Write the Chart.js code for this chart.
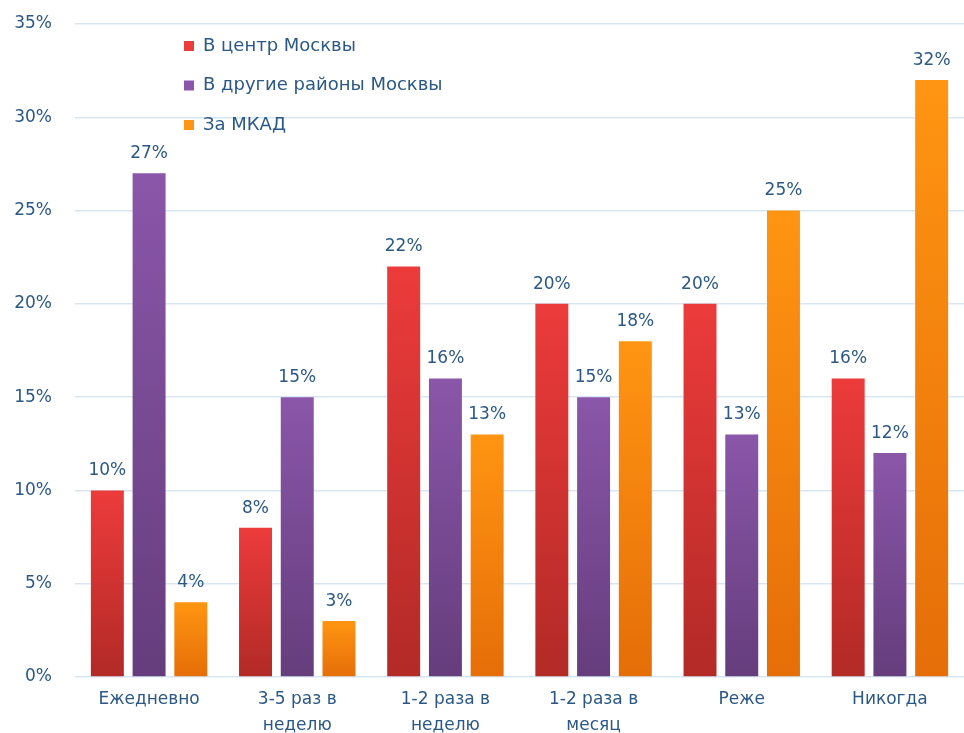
<!DOCTYPE html>
<html lang="ru">
<head>
  <meta charset="UTF-8">
  <title>Частота поездок</title>
  <script src="https://cdn.jsdelivr.net/npm/chart.js"></script>
  <style>
    html, body { margin: 0; padding: 0; background: #fff; }
    .wrap { width: 964px; height: 733px; position: relative; }
  </style>
</head>
<body>
<div class="wrap"><canvas id="chart"></canvas></div>

<script>
const categories = [
  'Ежедневно',
  ['3-5 раз в', 'неделю'],
  ['1-2 раза в', 'неделю'],
  ['1-2 раза в', 'месяц'],
  'Реже',
  'Никогда'
];
const seriesNames = ['В центр Москвы', 'В другие районы Москвы', 'За МКАД'];
const centerValues = [10, 8, 22, 20, 20, 16];
const districtValues = [27, 15, 16, 15, 13, 12];
const outsideValues = [4, 3, 13, 18, 25, 32];

const textBlue = '#2b5886';
const fontFamily = "'DejaVu Sans', Verdana, sans-serif";

// top / bottom colours for each series gradient
const palette = [
  ['#ec3b3b', '#b22a26'],
  ['#8a56a9', '#653d7c'],
  ['#ff9512', '#e56e08']
];

function barGradient(ctx) {
  const chart = ctx.chart;
  const pair = palette[ctx.datasetIndex];
  if (!chart.chartArea || ctx.type !== 'data') return pair[0];
  const y = chart.scales.y;
  const top = y.getPixelForValue(ctx.raw);
  const bottom = y.getPixelForValue(0);
  const g = chart.ctx.createLinearGradient(0, top, 0, bottom);
  g.addColorStop(0, pair[0]);
  g.addColorStop(1, pair[1]);
  return g;
}

const valueLabels = {
  id: 'valueLabels',
  afterDatasetsDraw(chart) {
    const ctx = chart.ctx;
    ctx.save();
    ctx.font = '17px ' + fontFamily;
    ctx.fillStyle = textBlue;
    ctx.textAlign = 'center';
    ctx.textBaseline = 'bottom';
    chart.data.datasets.forEach((ds, i) => {
      chart.getDatasetMeta(i).data.forEach((bar, j) => {
        ctx.fillText(ds.data[j] + '%', bar.x, bar.y - 11);
      });
    });
    ctx.restore();
  }
};

const boxLegend = {
  id: 'boxLegend',
  afterDraw(chart) {
    const ctx = chart.ctx;
    ctx.save();
    ctx.font = '18px ' + fontFamily;
    ctx.textBaseline = 'middle';
    chart.data.datasets.forEach((ds, i) => {
      const y = 46 + i * 39.5;
      ctx.fillStyle = palette[i][0];
      ctx.fillRect(184, y - 5, 10, 10);
      ctx.fillStyle = textBlue;
      ctx.fillText(ds.label, 203, y);
    });
    ctx.restore();
  }
};

new Chart(document.getElementById('chart'), {
  type: 'bar',
  data: {
    labels: categories,
    datasets: [
      { label: seriesNames[0], data: centerValues, backgroundColor: barGradient },
      { label: seriesNames[1], data: districtValues, backgroundColor: barGradient },
      { label: seriesNames[2], data: outsideValues, backgroundColor: barGradient }
    ]
  },
  options: {
    responsive: true,
    maintainAspectRatio: false,
    animation: false,
    categoryPercentage: 0.845,
    barPercentage: 0.79,
    layout: { padding: { top: 24, right: 0, left: 0, bottom: 0 } },
    plugins: { legend: { display: false }, tooltip: { enabled: false } },
    scales: {
      x: {
        afterFit(scale) { scale.height = 56; },
        grid: { display: false },
        border: { display: false },
        ticks: {
          color: textBlue,
          font: { family: fontFamily, size: 17, lineHeight: 1.5 },
          padding: 2,
          maxRotation: 0,
          autoSkip: false
        }
      },
      y: {
        min: 0,
        max: 35,
        afterFit(scale) {
          scale.width = 75;
          scale.paddingTop = 0;
          scale.paddingBottom = 0;
        },
        grid: { color: '#d8e5f2', lineWidth: 1.5, drawTicks: false },
        border: { display: false },
        ticks: {
          stepSize: 5,
          padding: 23,
          color: textBlue,
          font: { family: fontFamily, size: 17 },
          callback: v => v + '%'
        }
      }
    }
  },
  plugins: [valueLabels, boxLegend]
});
</script>
</body>
</html>
